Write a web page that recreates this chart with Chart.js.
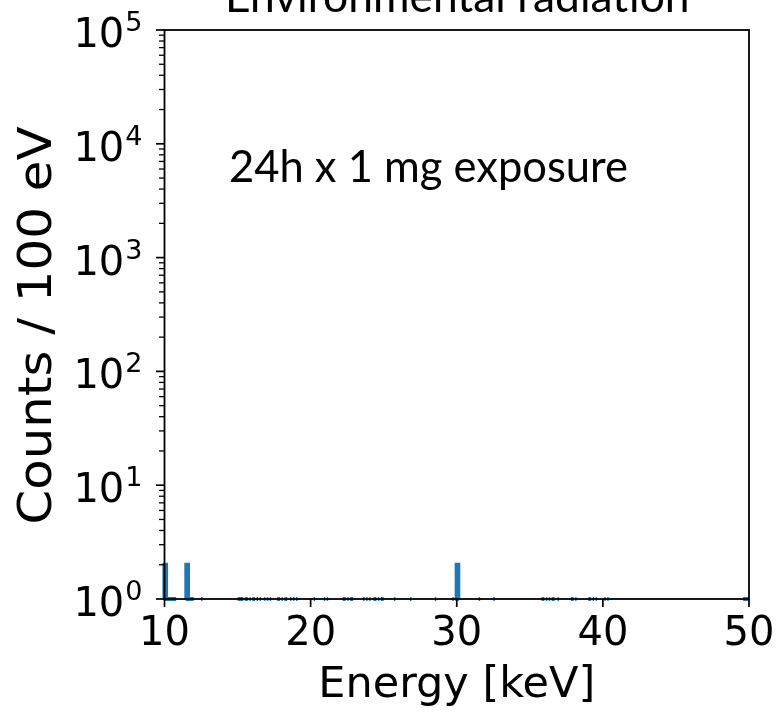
<!DOCTYPE html>
<html>
<head>
<meta charset="utf-8">
<script src="https://cdn.jsdelivr.net/npm/chart.js@4/dist/chart.umd.min.js"></script>
<style>
  html, body { margin: 0; padding: 0; background: #ffffff; }
  #wrap { width: 776px; height: 714px; }
</style>
</head>
<body>
<div id="wrap"><canvas id="spectrum" width="776" height="714"></canvas></div>
<script>
// Spectrum binned in 100 eV steps; only the non-empty bins are listed.
const binWidth = 0.1; // keV
const binStart = [
  10.0, 10.1, 10.2, 10.3, 10.4, 10.5, 10.6, 10.7,
  11.5, 11.6, 11.7, 11.8, 11.9,
  12.5,
  15.0, 15.1, 15.2, 15.3, 15.5, 15.6, 15.8, 16.0, 16.1, 16.3, 16.5,
  16.8, 17.0, 17.2,
  17.7, 17.8, 18.0, 18.2, 18.3,
  18.6, 18.8, 19.0,
  20.2, 20.9, 21.1,
  22.2, 22.3, 22.5, 22.7, 22.8,
  23.6, 23.8, 24.0,
  24.3, 24.4, 24.6, 24.8, 24.9,
  25.7, 26.8, 28.5,
  29.7, 29.9, 30.0,
  31.5, 32.5,
  35.8, 35.9, 36.1, 36.3, 36.5, 36.6, 36.9,
  37.8, 37.9, 38.1,
  39.0, 39.1, 39.3, 39.5,
  40.1, 40.3,
  49.6, 49.7, 49.8, 49.9
];
const binCounts = [
  2, 1, 1, 1, 1, 1, 1, 1,
  2, 1, 1, 1, 1,
  1,
  1, 1, 1, 1, 1, 1, 1, 1, 1, 1, 1,
  1, 1, 1,
  1, 1, 1, 1, 1,
  1, 1, 1,
  1, 1, 1,
  1, 1, 1, 1, 1,
  1, 1, 1,
  1, 1, 1, 1, 1,
  1, 1, 1,
  1, 1, 2,
  1, 1,
  1, 1, 1, 1, 1, 1, 1,
  1, 1, 1,
  1, 1, 1, 1,
  1, 1,
  1, 1, 1, 1
];
const xTicks = [10, 20, 30, 40, 50];
const yDecades = [0, 1, 2, 3, 4, 5];
const xRange = [10, 50];
const yRange = [1, 1e5];
const titleText = 'Environmental radiation';
const noteText = '24h x 1 mg exposure';
const xTitle = 'Energy [keV]';
const yTitle = 'Counts / 100 eV';

// Step outline of the histogram; empty bins drop to the axis floor and break the line.
function stepPoints() {
  const pts = [];
  const floor = yRange[0];
  let prevEnd = null;
  for (let i = 0; i < binStart.length; i++) {
    const lo = binStart[i];
    const hi = Math.round((lo + binWidth) * 100) / 100;
    const c = binCounts[i];
    if (prevEnd === null || Math.abs(lo - prevEnd) > 1e-6) {
      if (prevEnd !== null) {
        pts.push({ x: prevEnd, y: floor });
        pts.push({ x: (prevEnd + lo) / 2, y: null });
      }
      pts.push({ x: lo, y: floor });
    }
    pts.push({ x: lo, y: c });
    pts.push({ x: hi, y: c });
    prevEnd = hi;
  }
  pts.push({ x: prevEnd, y: floor });
  return pts;
}

function fitFont(ctx, text, family, targetWidth) {
  ctx.font = '100px ' + family;
  const w = ctx.measureText(text).width;
  return 100 * targetWidth / w;
}

// Axes frame, ticks and text drawn over the data, matplotlib style.
const axesDecor = {
  id: 'axesDecor',
  afterDatasetsDraw(chart) {
    const { ctx, chartArea: a, scales } = chart;
    const xs = scales.x, ys = scales.y;
    ctx.save();
    ctx.strokeStyle = '#000000';
    ctx.fillStyle = '#000000';

    // frame
    ctx.lineWidth = 1.8;
    ctx.strokeRect(a.left, a.top, a.right - a.left, a.bottom - a.top);

    // x ticks
    ctx.lineWidth = 1.7;
    ctx.font = '40px "DejaVu Sans"';
    ctx.textAlign = 'center';
    ctx.textBaseline = 'alphabetic';
    xTicks.forEach(v => {
      const px = xs.getPixelForValue(v);
      ctx.beginPath();
      ctx.moveTo(px, a.bottom);
      ctx.lineTo(px, a.bottom + 8);
      ctx.stroke();
      ctx.fillText(String(v), px, a.bottom + 46);
    });

    // y ticks: decades (major) and 2..9 (minor)
    for (let d = yDecades[0]; d <= yDecades[yDecades.length - 1]; d++) {
      const base = Math.pow(10, d);
      const py = ys.getPixelForValue(base);
      ctx.lineWidth = 1.7;
      ctx.beginPath();
      ctx.moveTo(a.left, py);
      ctx.lineTo(a.left - 8.5, py);
      ctx.stroke();
      if (d < yDecades[yDecades.length - 1]) {
        ctx.lineWidth = 1.3;
        for (let m = 2; m <= 9; m++) {
          const pm = ys.getPixelForValue(base * m);
          ctx.beginPath();
          ctx.moveTo(a.left, pm);
          ctx.lineTo(a.left - 5.5, pm);
          ctx.stroke();
        }
      }
    }

    // y tick labels: 10 with superscript exponent
    yDecades.forEach(d => {
      const py = ys.getPixelForValue(Math.pow(10, d));
      const right = a.left - 22;
      ctx.font = '27px "DejaVu Sans"';
      const sup = String(d);
      const supW = ctx.measureText(sup).width;
      ctx.textAlign = 'left';
      ctx.fillText(sup, right - supW, py + 1);
      ctx.font = '40px "DejaVu Sans"';
      ctx.textAlign = 'right';
      ctx.fillText('10', right - supW - 1, py + 17);
    });

    // axis titles
    ctx.font = '43px "DejaVu Sans"';
    ctx.textAlign = 'center';
    ctx.fillText(xTitle, (a.left + a.right) / 2, a.bottom + 98);
    ctx.save();
    ctx.font = '47px "DejaVu Sans"';
    ctx.translate(51, (a.top + a.bottom) / 2 + 11);
    ctx.rotate(-Math.PI / 2);
    ctx.scale(1.06, 1);
    ctx.fillText(yTitle, 0, 0);
    ctx.restore();

    // title and annotation
    const fam = 'Lato';
    const tSize = fitFont(ctx, titleText, fam, 465);
    ctx.font = tSize.toFixed(1) + 'px ' + fam;
    ctx.textAlign = 'center';
    ctx.fillText(titleText, (a.left + a.right) / 2 + 0.5, 12);
    const nSize = fitFont(ctx, noteText, fam, 399);
    ctx.font = nSize.toFixed(1) + 'px ' + fam;
    ctx.textAlign = 'left';
    ctx.fillText(noteText, 229, 182);

    ctx.restore();
  }
};

new Chart(document.getElementById('spectrum').getContext('2d'), {
  type: 'line',
  data: {
    datasets: [{
      data: stepPoints(),
      borderColor: '#1f77b4',
      borderWidth: 4.2,
      pointRadius: 0,
      tension: 0,
      fill: false,
      spanGaps: false,
      clip: 4,
      borderJoinStyle: 'miter',
      borderCapStyle: 'butt'
    }]
  },
  options: {
    responsive: false,
    animation: false,
    events: [],
    layout: { padding: { left: 164.5, right: 27, top: 30, bottom: 115 } },
    plugins: { legend: { display: false }, tooltip: { enabled: false }, title: { display: false } },
    scales: {
      x: { type: 'linear', min: xRange[0], max: xRange[1], display: false },
      y: { type: 'logarithmic', min: yRange[0], max: yRange[1], display: false }
    }
  },
  plugins: [axesDecor]
});
</script>
</body>
</html>
